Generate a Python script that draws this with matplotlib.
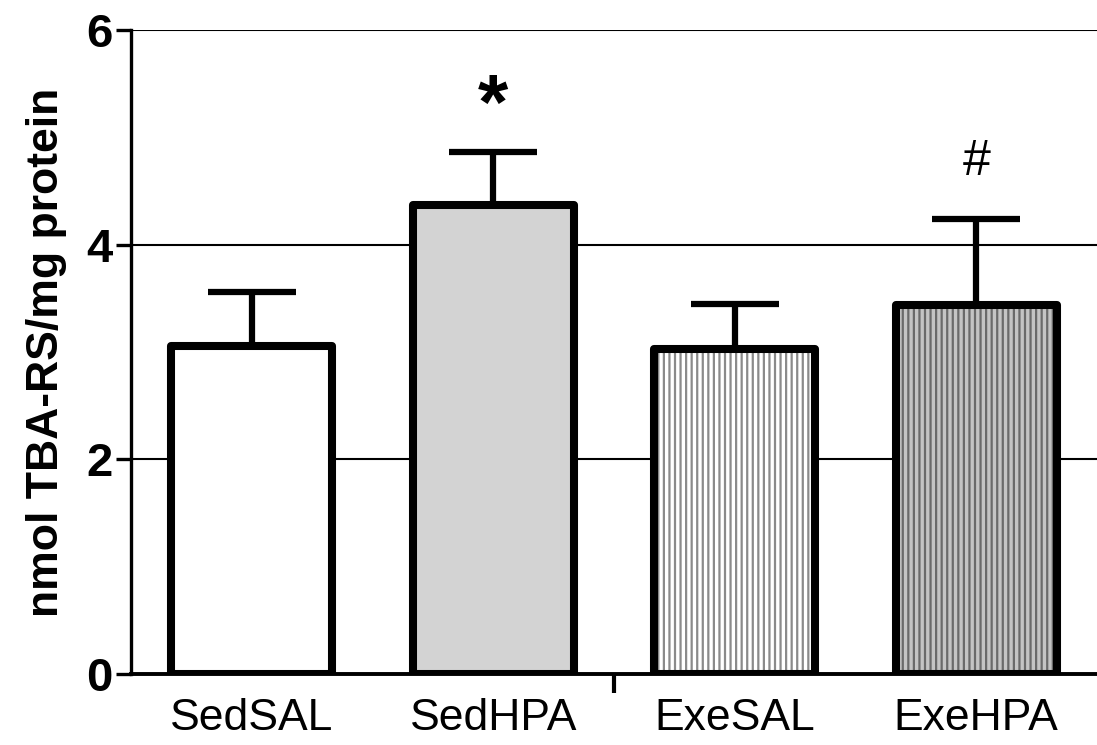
import matplotlib
matplotlib.use("Agg")
import matplotlib.pyplot as plt
import numpy as np

groups = ["SedSAL", "SedHPA", "ExeSAL", "ExeHPA"]
means = [3.06, 4.37, 3.03, 3.44]
errs = [0.50, 0.49, 0.42, 0.80]
marks = ["", "*", "", "#"]

face = ["white", "#d3d3d3", "white", "#c4c4c4"]
hatches = [None, None, "|||", "|||"]
hatch_col = ["none", "none", "#8a8a8a", "#6a6a6a"]

plt.rcParams["font.family"] = ["Liberation Sans", "DejaVu Sans"]
plt.rcParams["hatch.linewidth"] = 1.6

fig = plt.figure(figsize=(10.97, 7.45), dpi=100)
ax = fig.add_axes([0.1194, 0.0953, 0.8806, 0.8644])

x = np.arange(len(groups))
width = 0.665

# gridlines behind bars
for yv in [2, 4, 6]:
    ax.axhline(yv, color="black", lw=1.5, zorder=0)

# hatched fill first, then a thick outline on top
for i in range(len(groups)):
    ax.bar(x[i], means[i], width, color=face[i], edgecolor=hatch_col[i],
           hatch=hatches[i], lw=0, zorder=2)
ax.bar(x, means, width, color="none", edgecolor="black", lw=5.8,
       joinstyle="round", zorder=3)

# upper error bars only
ax.errorbar(x, means, yerr=[np.zeros(len(errs)), errs], fmt="none",
            ecolor="black", elinewidth=4.5, capsize=32, capthick=4.5,
            zorder=2.5)
for i in range(len(groups)):
    if marks[i] == "*":
        ax.text(x[i], means[i] + errs[i] + 0.41, marks[i], ha="center",
                va="center", fontsize=56, fontweight="bold")
    elif marks[i]:
        ax.text(x[i], means[i] + errs[i] + 0.53, marks[i], ha="center",
                va="center", fontsize=36)

ax.set_xlim(-0.5, 3.5)
ax.set_ylim(0, 6)
ax.set_yticks([0, 2, 4, 6])
ax.set_yticklabels(["0", "2", "4", "6"], fontsize=34, fontweight="bold")
ax.tick_params(axis="y", direction="out", length=11, width=2.4, pad=2)

ax.set_xticks(x)
ax.set_xticklabels(groups, fontsize=32)
ax.tick_params(axis="x", length=0, pad=17)
ax.set_xticks([1.5], minor=True)
ax.tick_params(axis="x", which="minor", direction="out", length=14, width=3)

ax.set_ylabel("nmol TBA-RS/mg protein", fontsize=32, fontweight="bold",
              labelpad=14)

for s in ["top", "right"]:
    ax.spines[s].set_visible(False)
ax.spines["left"].set_linewidth(2.4)
ax.spines["bottom"].set_linewidth(2.8)
ax.spines["left"].set_zorder(4)
ax.spines["bottom"].set_zorder(4)

fig.savefig("out.png", dpi=100)
